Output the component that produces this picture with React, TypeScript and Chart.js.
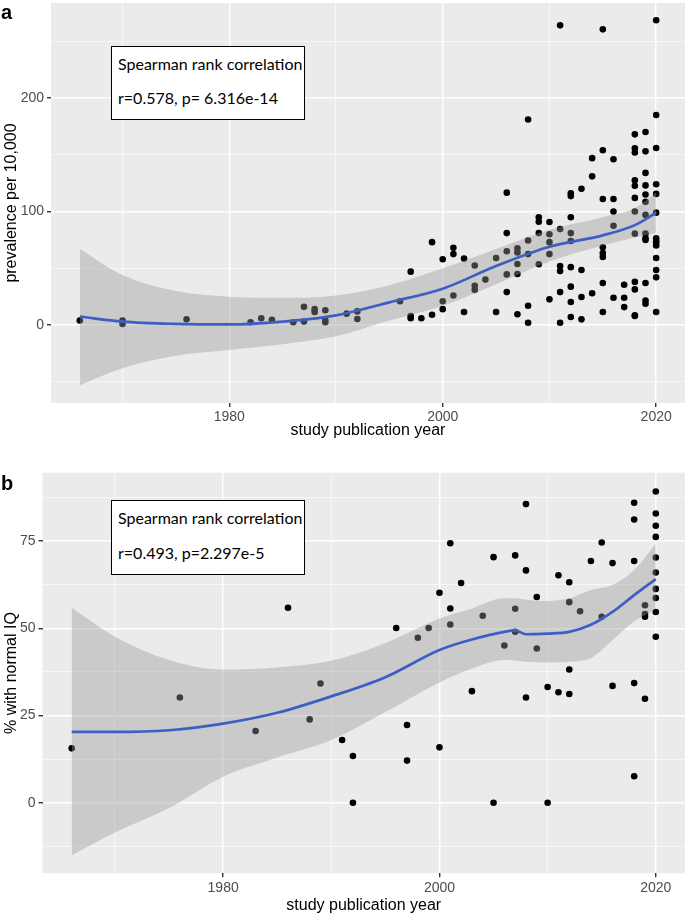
import React, { useEffect, useRef } from "react";
import { Chart, registerables } from "chart.js";
Chart.register(...registerables);

// ---------- Panel a: prevalence per 10,000 ----------
const prevalencePoints: [number, number][] = [
  [1966, 4], [1970, 4], [1970, 1], [1976, 5], [1982, 2.5], [1983, 6], [1984, 4.7],
  [1986, 2.4], [1987, 16], [1987, 3], [1988, 14], [1988, 11.5],
  [1989, 13], [1989, 4.4], [1989, 2.4], [1991, 10], [1992, 12], [1992, 5.3],
  [1996, 21], [1997, 47], [1997, 8], [1997, 6], [1998, 6], [1999, 73], [1999, 9],
  [2000, 58], [2000, 21], [2000, 14], [2001, 68], [2001, 62.5], [2001, 26],
  [2002, 58.5], [2002, 11.5], [2003, 52.5], [2003, 34.6], [2003, 31], [2004, 40],
  [2005, 59], [2005, 11.5],
  [2006, 116.6], [2006, 81], [2006, 65], [2006, 44.6], [2006, 29],
  [2007, 67.5], [2007, 64], [2007, 53.7], [2007, 45], [2007, 9.5],
  [2008, 181], [2008, 74.5], [2008, 62.5], [2008, 17], [2008, 2],
  [2009, 95], [2009, 91], [2009, 81], [2009, 53.5],
  [2010, 90.7], [2010, 80], [2010, 73], [2010, 62.5], [2010, 22.6],
  [2011, 264], [2011, 84.5], [2011, 52], [2011, 47.5], [2011, 29], [2011, 2],
  [2012, 116], [2012, 113.6], [2012, 95], [2012, 81], [2012, 74], [2012, 51], [2012, 33.8], [2012, 20.3], [2012, 7],
  [2013, 120], [2013, 48.5], [2013, 24.7], [2013, 5],
  [2014, 147], [2014, 131], [2014, 28],
  [2015, 260.5], [2015, 154], [2015, 111], [2015, 68.5], [2015, 63.5], [2015, 60], [2015, 37], [2015, 11.5],
  [2016, 146], [2016, 111], [2016, 100], [2016, 87.5], [2016, 24],
  [2017, 35.5], [2017, 24], [2017, 15.8],
  [2018, 168], [2018, 155.7], [2018, 152], [2018, 127.5], [2018, 122.7], [2018, 112], [2018, 100], [2018, 80.5], [2018, 38], [2018, 31.4], [2018, 8.5], [2018, 8],
  [2019, 170], [2019, 153], [2019, 134], [2019, 123], [2019, 115], [2019, 108.5], [2019, 97], [2019, 80.5], [2019, 76.5], [2019, 75], [2019, 37], [2019, 21.5], [2019, 18.8],
  [2020, 268.5], [2020, 185], [2020, 156], [2020, 124], [2020, 115.5], [2020, 99], [2020, 76.5], [2020, 74], [2020, 72.5], [2020, 70], [2020, 59], [2020, 48.5], [2020, 42], [2020, 11.5],
];
const prevSmoothYears = [1966, 1970, 1975, 1980, 1985, 1990, 1995, 2000, 2005, 2010, 2015, 2018, 2020];
const prevFit = [7.5, 3, 1, 0.5, 3, 8.5, 20, 32, 52, 69, 79, 88, 99];
const prevUpper = [67, 44, 30, 25, 24, 26, 35, 50, 67, 84, 95, 103, 117];
const prevLower = [-53, -38, -27, -22, -17, -10, 4, 17, 36, 56, 70, 77, 81];
const prevYTicks = [-50, 0, 50, 100, 150, 200, 250];

// ---------- Panel b: % with normal IQ ----------
const iqPoints: [number, number][] = [
  [1966, 15.6], [1976, 30.2], [1983, 20.6], [1986, 55.9], [1988, 23.9], [1989, 34.2],
  [1991, 18], [1992, 13.4], [1992, 0], [1996, 50.1], [1997, 22.3], [1997, 12.1],
  [1998, 47.3], [1999, 50.1], [2000, 60.2], [2000, 15.9],
  [2001, 74.4], [2001, 55.7], [2001, 51.1], [2002, 63], [2003, 32], [2004, 53.6],
  [2005, 70.4], [2005, 0], [2006, 45.1], [2007, 70.9], [2007, 55.6], [2007, 49],
  [2008, 85.6], [2008, 66.6], [2008, 30.2], [2009, 59], [2009, 44.2],
  [2010, 33.2], [2010, 0], [2011, 65.2], [2011, 31.7],
  [2012, 63.2], [2012, 57.5], [2012, 38.2], [2012, 31.2], [2013, 54.9],
  [2014, 69.3], [2015, 74.6], [2015, 53.3], [2016, 68.7], [2016, 33.5],
  [2018, 86], [2018, 81.2], [2018, 69.3], [2018, 34.3], [2018, 7.6],
  [2019, 56.6], [2019, 54.1], [2019, 53.3], [2019, 29.8],
  [2020, 89.2], [2020, 82.9], [2020, 79.4], [2020, 76.2], [2020, 70.3], [2020, 66],
  [2020, 61.3], [2020, 58.7], [2020, 54.7], [2020, 47.6],
];
const iqSmoothYears = [1966, 1970, 1975, 1980, 1985, 1990, 1995, 2000, 2003, 2006, 2007, 2008, 2010, 2012, 2014, 2016, 2018, 2020];
const iqFit = [20.3, 20.3, 20.8, 22.7, 25.8, 30.5, 36, 43.8, 46.8, 49, 49.4, 48.3, 48.5, 49, 51, 54.7, 59.5, 64.1];
const iqUpper = [55.9, 47.6, 40.9, 38.2, 38.8, 40.7, 45.8, 52.8, 55.7, 58.6, 58.6, 58.2, 57.8, 58.6, 61, 62.4, 66.7, 74.3];
const iqLower = [-15, -8.5, -1.5, 7.5, 13, 18, 26, 34.5, 38.5, 40.9, 40.8, 40.4, 40.2, 40.4, 41.5, 46.6, 52, 55.5];
const iqYTicks = [-12.5, 0, 12.5, 25, 37.5, 50, 62.5, 75, 87.5];

const xTickYears = [1970, 1980, 1990, 2000, 2010, 2020];

const FONT = "'Liberation Sans', Arial, sans-serif";

const bgPlugin = {
  id: "panelBg",
  beforeDraw(chart: any) {
    const { ctx, chartArea: a } = chart;
    ctx.save();
    ctx.fillStyle = "#EBEBEB";
    ctx.fillRect(a.left, a.top, a.right - a.left, a.bottom - a.top);
    ctx.restore();
  },
};

type PanelSpec = {
  points: [number, number][];
  smoothYears: number[];
  fit: number[];
  upper: number[];
  lower: number[];
  yTicks: number[];
  yMajor: number;
  yMin: number;
  yMax: number;
  yTitle: string;
  yWidth: number;
  xHeight: number;
  padTop: number;
  xTitlePad: number;
};

function buildChart(canvas: HTMLCanvasElement, p: PanelSpec) {
  const toXY = (ys: number[]) => p.smoothYears.map((x, i) => ({ x, y: ys[i] }));
  const isMajorX = (v: number) => v % 20 === 0;
  const isMajorY = (v: number) => Math.abs(v % p.yMajor) < 1e-9;
  return new Chart(canvas, {
    type: "scatter",
    data: {
      datasets: [
        {
          type: "scatter",
          data: p.points.map(([x, y]) => ({ x, y })),
          pointRadius: 3.3,
          pointBackgroundColor: "#000000",
          pointBorderWidth: 0,
          pointBorderColor: "rgba(0,0,0,0)",
          order: 3,
        } as any,
        {
          type: "line",
          data: toXY(p.upper),
          borderColor: "rgba(0,0,0,0)",
          borderWidth: 0,
          pointRadius: 0,
          fill: false,
          cubicInterpolationMode: "monotone",
          order: 2,
        } as any,
        {
          type: "line",
          data: toXY(p.lower),
          borderColor: "rgba(0,0,0,0)",
          borderWidth: 0,
          pointRadius: 0,
          fill: "-1",
          backgroundColor: "rgba(153,153,153,0.4)",
          cubicInterpolationMode: "monotone",
          order: 2,
        } as any,
        {
          type: "line",
          data: toXY(p.fit),
          borderColor: "#3D5FC4",
          borderWidth: 2.7,
          pointRadius: 0,
          fill: false,
          cubicInterpolationMode: "monotone",
          order: 1,
        } as any,
      ],
    },
    options: {
      responsive: false,
      animation: false,
      events: [],
      layout: { autoPadding: false, padding: { top: p.padTop, left: 0, right: 0, bottom: 0 } },
      plugins: { legend: { display: false }, tooltip: { enabled: false } },
      scales: {
        x: {
          type: "linear",
          min: 1963.3,
          max: 2022.7,
          afterBuildTicks: (s: any) => {
            s.ticks = xTickYears.map((v) => ({ value: v }));
          },
          afterFit: (s: any) => {
            s.height = p.xHeight;
            s.paddingLeft = 0;
            s.paddingRight = 0;
          },
          border: { display: false },
          grid: {
            color: "#FFFFFF",
            lineWidth: (c: any) => (c.tick && isMajorX(c.tick.value) ? 1.4 : 0.6),
            tickColor: (c: any) => (c.tick && isMajorX(c.tick.value) ? "#333333" : "rgba(0,0,0,0)"),
            tickLength: 4,
          },
          ticks: {
            autoSkip: false,
            maxRotation: 0,
            padding: 2,
            color: "#4D4D4D",
            font: { family: FONT, size: 14 },
            callback: (v: any) => (isMajorX(Number(v)) ? String(v) : ""),
          },
          title: {
            display: true,
            text: "study publication year",
            color: "#000000",
            font: { family: FONT, size: 16 },
            padding: { top: 0, bottom: p.xTitlePad },
          },
        },
        y: {
          type: "linear",
          min: p.yMin,
          max: p.yMax,
          afterBuildTicks: (s: any) => {
            s.ticks = p.yTicks.map((v) => ({ value: v }));
          },
          afterFit: (s: any) => {
            s.width = p.yWidth;
            s.paddingTop = 0;
            s.paddingBottom = 0;
          },
          border: { display: false },
          grid: {
            color: "#FFFFFF",
            lineWidth: (c: any) => (c.tick && isMajorY(c.tick.value) ? 1.4 : 0.6),
            tickColor: (c: any) => (c.tick && isMajorY(c.tick.value) ? "#333333" : "rgba(0,0,0,0)"),
            tickLength: 4,
          },
          ticks: {
            autoSkip: false,
            padding: 3,
            color: "#4D4D4D",
            font: { family: FONT, size: 14 },
            callback: (v: any) => (isMajorY(Number(v)) ? String(v) : ""),
          },
          title: {
            display: true,
            text: p.yTitle,
            color: "#000000",
            font: { family: FONT, size: 16 },
            padding: { top: 2, bottom: 0 },
          },
        },
      },
    } as any,
    plugins: [bgPlugin],
  });
}

const boxStyle: React.CSSProperties = {
  position: "absolute",
  left: 111,
  width: 194,
  background: "#FFFFFF",
  border: "1px solid #000000",
  boxSizing: "border-box",
};
const boxText: React.CSSProperties = {
  position: "absolute",
  left: 6,
  fontFamily: "Lato, 'Open Sans', sans-serif",
  fontSize: 16,
  lineHeight: "20px",
  color: "#000000",
  whiteSpace: "nowrap",
};
const panelLabel: React.CSSProperties = {
  position: "absolute",
  left: 1,
  fontFamily: FONT,
  fontWeight: "bold",
  fontSize: 20,
  lineHeight: "20px",
  color: "#000000",
};

export default function App() {
  const refA = useRef<HTMLCanvasElement | null>(null);
  const refB = useRef<HTMLCanvasElement | null>(null);

  useEffect(() => {
    const a = buildChart(refA.current!, {
      points: prevalencePoints,
      smoothYears: prevSmoothYears,
      fit: prevFit,
      upper: prevUpper,
      lower: prevLower,
      yTicks: prevYTicks,
      yMajor: 100,
      yMin: -68.7,
      yMax: 283.7,
      yTitle: "prevalence per 10,000",
      yWidth: 51,
      xHeight: 42,
      padTop: 3,
      xTitlePad: 5,
    });
    const b = buildChart(refB.current!, {
      points: iqPoints,
      smoothYears: iqSmoothYears,
      fit: iqFit,
      upper: iqUpper,
      lower: iqLower,
      yTicks: iqYTicks,
      yMajor: 25,
      yMin: -20.2,
      yMax: 94.6,
      yTitle: "% with normal IQ",
      yWidth: 42.5,
      xHeight: 41.7,
      padTop: 27.7,
      xTitlePad: 0,
    });
    return () => {
      a.destroy();
      b.destroy();
    };
  }, []);

  return (
    <div style={{ position: "relative", width: 685, height: 915, background: "#FFFFFF", overflow: "hidden" }}>
      <style>{`body{margin:0;}`}</style>
      <canvas ref={refA} width={685} height={445} style={{ position: "absolute", left: 0, top: 0 }} />
      <canvas ref={refB} width={685} height={470} style={{ position: "absolute", left: 0, top: 445 }} />
      <div style={{ ...panelLabel, top: 2 }}>a</div>
      <div style={{ ...panelLabel, top: 473 }}>b</div>
      <div style={{ ...boxStyle, top: 46, height: 74 }}>
        <div style={{ ...boxText, top: 7 }}>Spearman rank correlation</div>
        <div style={{ ...boxText, top: 41 }}>r=0.578, p= 6.316e-14</div>
      </div>
      <div style={{ ...boxStyle, top: 500, height: 75 }}>
        <div style={{ ...boxText, top: 7 }}>Spearman rank correlation</div>
        <div style={{ ...boxText, top: 42 }}>r=0.493, p=2.297e-5</div>
      </div>
    </div>
  );
}
